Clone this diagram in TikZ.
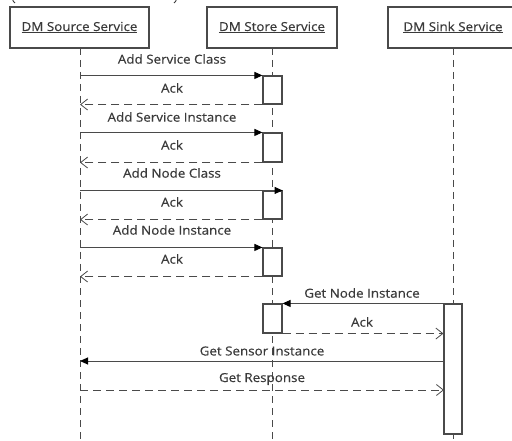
\documentclass[tikz,border=0pt]{standalone}
\usepackage{fontspec}
\setmainfont[FakeStretch=1.08,FakeBold=0.4]{Open Sans}
\usetikzlibrary{arrows.meta}
\definecolor{ln}{HTML}{4A4A4A}
\definecolor{tx}{HTML}{3A3A3A}
\newcommand{\lblfont}{\fontsize{12.4}{14}\selectfont}
\tikzset{
  head/.style={draw=ln, line width=1.1pt, fill=white, inner sep=0pt, text=tx, font=\lblfont},
  act/.style={draw=ln, line width=1.1pt, fill=white, inner sep=0pt, minimum width=19pt},
  life/.style={draw=ln, line width=1pt, dash pattern=on 7pt off 5pt},
  msg/.style={draw=ln, line width=1pt, -{Triangle[length=8pt,width=7pt,color=black]}},
  reply/.style={draw=ln, line width=1pt, dash pattern=on 8pt off 5pt, -{Straight Barb[length=7pt,width=11pt,line width=0.8pt]}},
  lbl/.style={text=tx, font=\lblfont, inner sep=0pt},
  paren/.style={draw=tx, line width=0.9pt}
}
\begin{document}
\begin{tikzpicture}[x=1pt,y=-1pt]
\useasboundingbox (0,0) rectangle (512,441);
\begin{scope}
\clip (0,0) rectangle (512,441);
% cut-off caption fragments at the top edge
\draw[paren] (12.5,-2) .. controls (12.8,1) .. (15,3);
\draw[paren] (176.5,-2) .. controls (176.2,1) .. (174,3);
% lifelines
\coordinate (s0) at (80,48); \coordinate (s1) at (80,441);
\coordinate (t0) at (272.5,48); \coordinate (t1) at (272.5,441);
\coordinate (k0) at (453,48); \coordinate (k1) at (453,441);
\draw[life] (s0) -- (s1);
\draw[life] (t0) -- (t1);
\draw[life] (k0) -- (k1);
% header boxes
\node[head, minimum width=139pt, minimum height=41pt] (src) at (79.5,27.5) {\underline{DM Source Service}};
\node[head, minimum width=130pt, minimum height=41pt] (sto) at (272,27.5) {\underline{DM Store Service}};
\node[head, minimum width=130pt, minimum height=41pt] (snk) at (453,27.5) {\underline{DM Sink Service}};
% activation boxes
\node[act, minimum height=28pt] (a1) at (272.5,90) {};
\node[act, minimum height=29pt] (a2) at (272.5,147.5) {};
\node[act, minimum height=28pt] (a3) at (272.5,205) {};
\node[act, minimum height=28pt] (a4) at (272.5,262) {};
\node[act, minimum height=29pt] (a5) at (272.5,318.5) {};
\node[act, minimum width=18pt, minimum height=130pt] (b1) at (453,369) {};
% messages
\draw[msg] (s0 |- a1.north) -- (a1.north west);
\draw[reply] (a1.south west) -- (s0 |- a1.south);
\draw[msg] (s0 |- a2.north) -- (a2.north west);
\draw[reply] (a2.south west) -- (s0 |- a2.south);
\draw[msg] (s0 |- a3.north) -- (a3.north east);
\draw[reply] (a3.south west) -- (s0 |- a3.south);
\draw[msg] (s0 |- a4.north) -- (a4.north west);
\draw[reply] (a4.south west) -- (s0 |- a4.south);
\draw[msg] (b1.north west) -- (a5.north east);
\draw[reply] (a5.south east) -- (b1.west |- a5.south);
\coordinate (gs) at (444,361);
\coordinate (gr) at (444,390);
\draw[msg] (gs) -- (s0 |- gs);
\draw[reply] (s0 |- gr) -- (gr);
% labels
\node[lbl] (l1) at (172,59) {Add Service Class};
\node[lbl] (l2) at (172,88) {Ack};
\node[lbl] (l3) at (172,117) {Add Service Instance};
\node[lbl] (l4) at (172,145) {Ack};
\node[lbl] (l5) at (172,173) {Add Node Class};
\node[lbl] (l6) at (172,202) {Ack};
\node[lbl] (l7) at (172,230) {Add Node Instance};
\node[lbl] (l8) at (172,259) {Ack};
\node[lbl] (l9) at (362,293) {Get Node Instance};
\node[lbl] (l10) at (362,322) {Ack};
\node[lbl] (l11) at (262,351) {Get Sensor Instance};
\node[lbl] (l12) at (262,379) {Get Response};
\end{scope}
\end{tikzpicture}
\end{document}
